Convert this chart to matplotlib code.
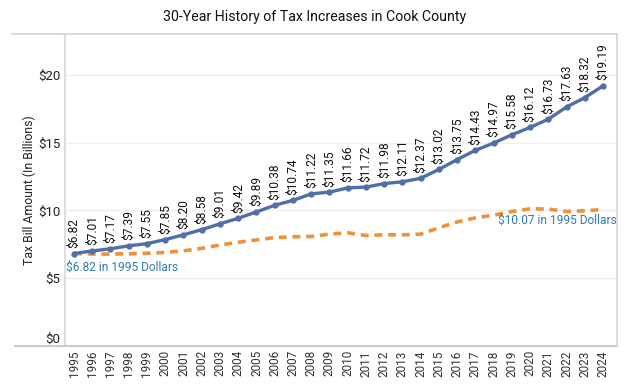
import numpy as np
import matplotlib.pyplot as plt
from matplotlib.lines import Line2D

plt.rcParams['font.family'] = ['Roboto', 'DejaVu Sans']

years = list(range(1995, 2025))
nominal = [6.82, 7.01, 7.17, 7.39, 7.55, 7.85, 8.20, 8.58, 9.01, 9.42,
           9.89, 10.38, 10.74, 11.22, 11.35, 11.66, 11.72, 11.98, 12.11, 12.37,
           13.02, 13.75, 14.43, 14.97, 15.58, 16.12, 16.73, 17.63, 18.32, 19.19]
real_1995 = [6.82, 6.78, 6.78, 6.80, 6.84, 6.90, 7.02, 7.20, 7.45, 7.65,
             7.82, 8.00, 8.05, 8.08, 8.25, 8.35, 8.15, 8.20, 8.20, 8.25,
             8.72, 9.15, 9.45, 9.65, 9.92, 10.12, 10.10, 9.92, 9.97, 10.07]
yticks = [0, 5, 10, 15, 20]

blue = '#4f6fa6'
orange = '#ef913a'
label_blue = '#2f7bab'

fig = plt.figure(figsize=(6.3, 3.84), dpi=100)
ax = fig.add_axes([0.103, 0.099, 0.876, 0.812])

x = np.arange(len(years))
ax.plot(x, real_1995, color=orange, lw=2.6, ls=(0, (2.2, 1.6)), zorder=2)
ax.plot(x, nominal, color=blue, lw=2.4, marker='o', ms=3.5, zorder=3)

for xi, v in zip(x, nominal):
    ax.annotate(f'${v:.2f}', (xi, v), xytext=(0, 4), textcoords='offset points',
                rotation=90, ha='center', va='bottom', fontsize=8.6, color='#111111')

ax.text(x[0] - 0.45, real_1995[0] - 0.55, f'${real_1995[0]:.2f} in 1995 Dollars',
        color=label_blue, fontsize=8.6, ha='left', va='top')
ax.text(x[-1] + 0.75, real_1995[-1] - 0.3, f'${real_1995[-1]:.2f} in 1995 Dollars',
        color=label_blue, fontsize=8.6, ha='right', va='top')

ax.set_xlim(-0.5, len(years) - 0.25)
ax.set_ylim(0, 23)
ax.set_yticks(yticks)
ax.set_yticklabels([f'${t}' for t in yticks], fontsize=9.5, color='#222222')
ax.get_yticklabels()[0].set_va('bottom')
ax.set_xticks(x)
ax.set_xticklabels([str(y) for y in years], rotation=90, fontsize=8.5, color='#333333')
ax.tick_params(axis='both', length=0, pad=3)
ax.yaxis.grid(True, color='#eeeeee', lw=1)
ax.set_axisbelow(True)
for s in ['top', 'right', 'bottom']:
    ax.spines[s].set_visible(False)
ax.spines['left'].set_color('#dddddd')
ax.spines['left'].set_linewidth(1.5)
ax.set_ylabel('Tax Bill Amount (In Billions)', fontsize=8.8, color='#222222', labelpad=2)

# outer frame lines
fig.add_artist(Line2D([12 / 630, 617 / 630], [1 - 34 / 384, 1 - 34 / 384], color='#d4d4d4', lw=1.2))
fig.add_artist(Line2D([617 / 630, 617 / 630], [1 - 34 / 384, 1 - 346 / 384], color='#d4d4d4', lw=1.2))
fig.add_artist(Line2D([15 / 630, 617 / 630], [1 - 346 / 384, 1 - 346 / 384], color='#cccccc', lw=1.5))

fig.text(0.5, 1 - 17 / 384, '30-Year History of Tax Increases in Cook County',
         ha='center', va='center', fontsize=10.2, color='#111111')

fig.savefig('out.png', dpi=100)
